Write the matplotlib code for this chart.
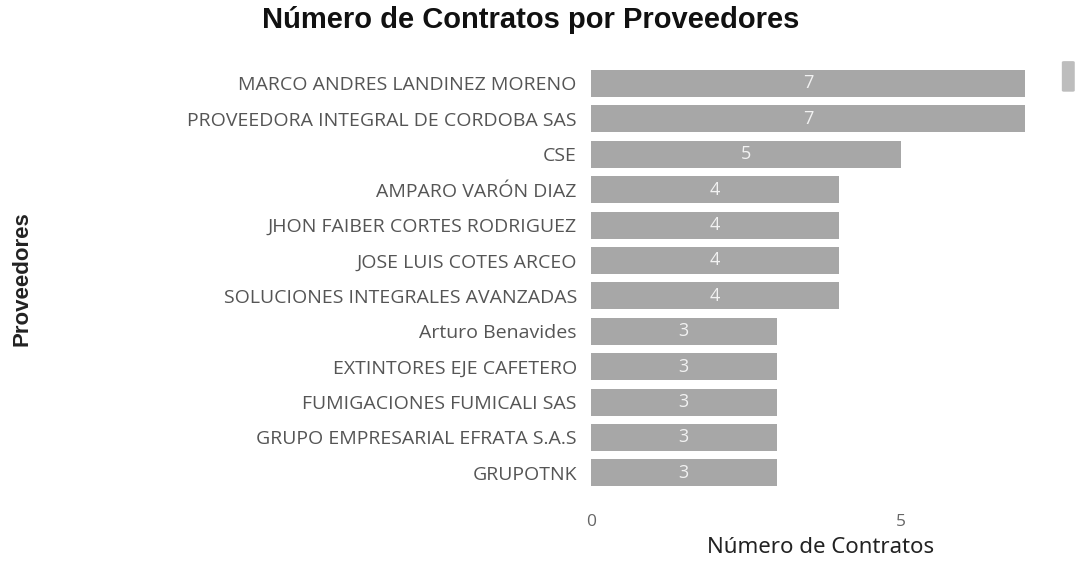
import matplotlib
matplotlib.use("Agg")
import matplotlib.pyplot as plt
from matplotlib.patches import FancyBboxPatch

# data
proveedores = [
    "MARCO ANDRES LANDINEZ MORENO",
    "PROVEEDORA INTEGRAL DE CORDOBA SAS",
    "CSE",
    "AMPARO VARÓN DIAZ",
    "JHON FAIBER CORTES RODRIGUEZ",
    "JOSE LUIS COTES ARCEO",
    "SOLUCIONES INTEGRALES AVANZADAS",
    "Arturo Benavides",
    "EXTINTORES EJE CAFETERO",
    "FUMIGACIONES FUMICALI SAS",
    "GRUPO EMPRESARIAL EFRATA S.A.S",
    "GRUPOTNK",
]
contratos = [7, 7, 5, 4, 4, 4, 4, 3, 3, 3, 3, 3]
x_ticks = [0, 5]

fig = plt.figure(figsize=(10.78, 5.66), dpi=100)
ax = fig.add_axes([0.548, 0.127, 0.426, 0.763])

pos = list(range(len(proveedores)))
bars = ax.barh(pos, contratos, height=0.76, color="#a7a7a7")
for p, v in zip(pos, contratos):
    ax.text(v / 2, p, str(v), ha="center", va="center",
            color="#f2f2f2", fontsize=13, family="Open Sans")

ax.set_ylim(len(proveedores) - 0.4, -0.6)
ax.set_xlim(0, 7.4)
ax.set_yticks(pos)
ax.set_yticklabels(proveedores, fontsize=14, color="#555555", family="Open Sans")
ax.set_xticks(x_ticks)
ax.set_xticklabels([str(t) for t in x_ticks], fontsize=12.5, color="#666666", family="Open Sans")
ax.tick_params(axis="y", length=0, pad=10)
ax.tick_params(axis="x", length=0, pad=14)
for s in ax.spines.values():
    s.set_visible(False)

ax.set_xlabel("Número de Contratos", fontsize=16, color="#222222",
              family="Noto Sans", labelpad=5)
fig.text(0.02, 0.507, "Proveedores", rotation=90, ha="center", va="center",
         fontsize=16, fontweight="bold", color="#222222", family="Liberation Sans")
fig.suptitle("Número de Contratos por Proveedores", x=0.492, y=0.99,
             fontsize=21, fontweight="bold", family="Liberation Sans", color="#111111")

# scrollbar thumb
fig.patches.append(FancyBboxPatch((0.987, 0.84), 0.008, 0.05,
                                  boxstyle="round,pad=0.002", transform=fig.transFigure,
                                  facecolor="#bdbdbd", edgecolor="none"))

fig.savefig("out.png", dpi=100, facecolor="white")
